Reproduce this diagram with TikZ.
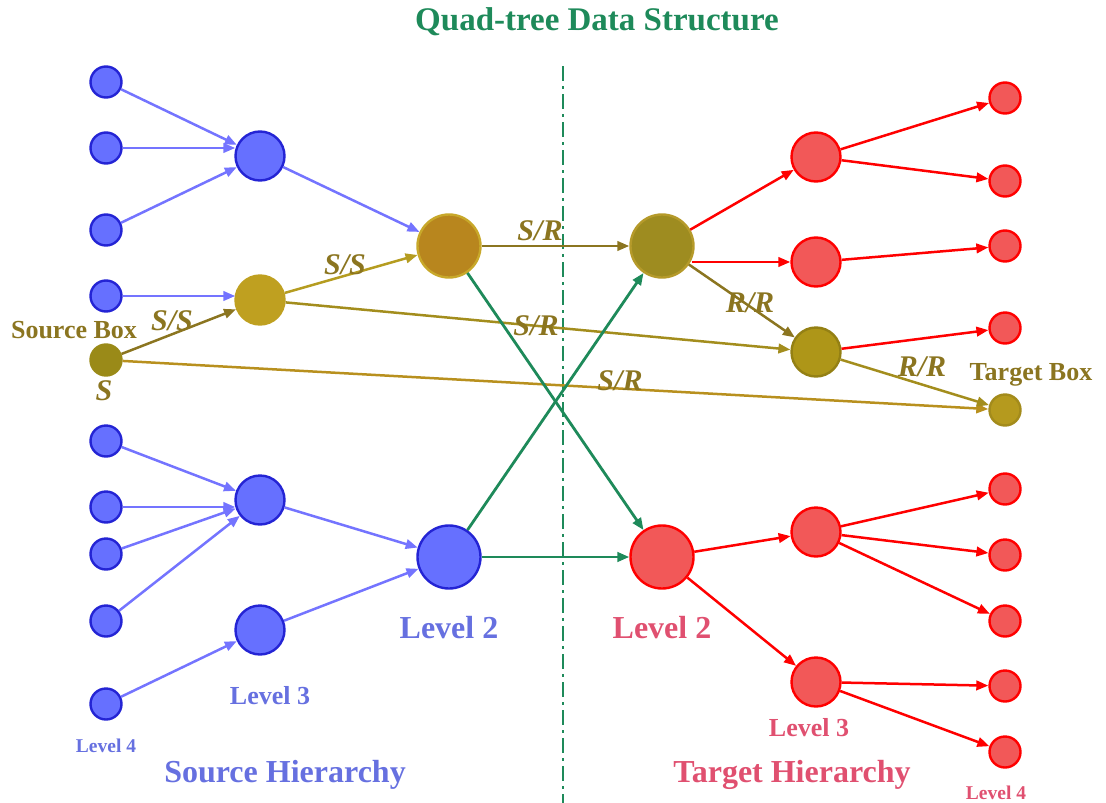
\documentclass[tikz,border=0pt]{standalone}
\usepackage{fontspec}
\setmainfont{Liberation Serif}
\usetikzlibrary{arrows.meta}
\definecolor{bfill}{HTML}{6670FF}
\definecolor{bdraw}{HTML}{2424D4}
\definecolor{bline}{HTML}{7474FF}
\definecolor{rfill}{HTML}{F25858}
\definecolor{rdraw}{HTML}{FF0000}
\definecolor{gline}{HTML}{1E8A5A}
\definecolor{olab}{HTML}{8B7520}
\definecolor{oline}{HTML}{8B7520}
\definecolor{oline2}{HTML}{B59C20}
\definecolor{oline3}{HTML}{B8901E}
\definecolor{srcfill}{HTML}{9A8A18}
\definecolor{tgtfill}{HTML}{B59A1E}
\definecolor{efill}{HTML}{B8861E}
\definecolor{edraw}{HTML}{C8A82A}
\definecolor{gfill}{HTML}{9E8C20}
\definecolor{gdraw}{HTML}{B59A2A}
\definecolor{bbfill}{HTML}{BFA020}
\definecolor{mfill}{HTML}{AE9618}
\definecolor{lvlb}{HTML}{6670E0}
\definecolor{lvlr}{HTML}{E05070}
\tikzset{
  nd/.style={circle,inner sep=0pt,line width=2.4pt},
  sm/.style={nd,minimum size=31pt},
  md/.style={nd,minimum size=49pt},
  lg/.style={nd,minimum size=63pt},
  blu/.style={fill=bfill,draw=bdraw},
  red/.style={fill=rfill,draw=rdraw},
  ar/.style={-{Triangle[length=12pt,width=9.5pt]},line width=2.5pt},
  bl/.style={ar,bline},
  rl/.style={ar,rdraw},
  gl/.style={ar,gline,line width=2.8pt},
  ol/.style={ar,oline},
  lab/.style={font=\fontsize{30}{32}\selectfont\bfseries\itshape,text=olab},
  big/.style={font=\fontsize{32}{34}\selectfont\bfseries},
  mid/.style={font=\fontsize{26}{28}\selectfont\bfseries},
  tiny/.style={font=\fontsize{19.5}{21}\selectfont\bfseries},
}
\begin{document}
\begin{tikzpicture}[x=1pt,y=-1pt]
\useasboundingbox (0,0) rectangle (1106,803);
% left level 4
\node[sm,blu] (l1) at (106,82) {};
\node[sm,blu] (l2) at (106,148) {};
\node[sm,blu] (l3) at (106,230) {};
\node[sm,blu] (l4) at (106,296) {};
\node[sm,fill=srcfill,draw=srcfill] (src) at (106,360) {};
\node[sm,blu] (l6) at (106,441) {};
\node[sm,blu] (l7) at (106,507) {};
\node[sm,blu] (l8) at (106,554) {};
\node[sm,blu] (l9) at (106,621) {};
\node[sm,blu] (l10) at (106,704) {};
% left level 3
\node[md,blu] (A) at (260,156) {};
\node[md,fill=bbfill,draw=bbfill] (B) at (260,300) {};
\node[md,blu] (C) at (260,500) {};
\node[md,blu] (D) at (260,630) {};
% level 2
\node[lg,fill=efill,draw=edraw] (E) at (449,246) {};
\node[lg,blu] (F) at (449,557) {};
\node[lg,fill=gfill,draw=gdraw] (G) at (662,246) {};
\node[lg,red] (H) at (662,557) {};
% right level 3
\node[md,red] (P) at (816,157) {};
\node[md,red] (Q) at (816,262) {};
\node[md,fill=mfill,draw=mfill!85!black] (M) at (816,352) {};
\node[md,red] (U) at (816,532) {};
\node[md,red] (V) at (816,682) {};
% right level 4
\node[sm,red] (r1) at (1005,98) {};
\node[sm,red] (r2) at (1005,181) {};
\node[sm,red] (r3) at (1005,246) {};
\node[sm,red] (r4) at (1005,328) {};
\node[sm,fill=tgtfill,draw=tgtfill!90!black] (tgt) at (1005,410) {};
\node[sm,red] (r6) at (1005,489) {};
\node[sm,red] (r7) at (1005,555) {};
\node[sm,red] (r8) at (1005,621) {};
\node[sm,red] (r9) at (1005,686) {};
\node[sm,red] (r10) at (1005,752) {};
% divider
\coordinate (dt) at (563,66);
\coordinate (db) at (563,803);
\draw[gline,line width=2.6pt,dash pattern=on 15pt off 5pt on 3pt off 5pt] (dt) -- (db);
% blue edges
\draw[bl] (l1) -- (A);
\draw[bl] (l2) -- ([xshift=1pt]A.west |- l2);
\draw[bl] (l3) -- (A);
\draw[bl] (l4) -- ([xshift=1pt]B.west |- l4);
\draw[bl] (A) -- (E);
\draw[bl] (l6) -- (C);
\draw[bl] (l7) -- ([xshift=1pt]C.west |- l7);
\draw[bl] (l8) -- (C);
\draw[bl] (l9) -- (C);
\draw[bl] (l10) -- (D);
\draw[bl] (C) -- (F);
\draw[bl] (D) -- (F);
% olive edges
\draw[ol] (src) -- (B);
\draw[ar,oline3] (src) -- (tgt);
\draw[ar,oline2] (B) -- (E);
\draw[ar,oline2!90!black] (B) -- (M);
\draw[ol] (E) -- (G);
\draw[ol] (G) -- (M);
\draw[ar,oline2!90!black] (M) -- (tgt);
% green edges
\draw[gl] (E) -- (H);
\draw[gl] (F) -- (G);
\draw[gl] (F) -- (H);
% red edges
\draw[rl] (G) -- (P);
\draw[rl] ([xshift=-3pt]G.east |- Q) -- (Q);
\draw[rl] (P) -- (r1);
\draw[rl] (P) -- (r2);
\draw[rl] (Q) -- (r3);
\draw[rl] (M) -- (r4);
\draw[rl] (H) -- (U);
\draw[rl] (H) -- (V);
\draw[rl] (U) -- (r6);
\draw[rl] (U) -- (r7);
\draw[rl] (U) -- (r8);
\draw[rl] (V) -- (r9);
\draw[rl] (V) -- (r10);
% labels
\node[font=\fontsize{33}{35}\selectfont\bfseries,text=gline] (title) at (597,22) {Quad-tree Data Structure};
\node[mid,text=olab] (srcl) at (74,330) {Source Box};
\node[lab] (sl) at (104,391) {S};
\node[lab] (ss1) at (172,321) {S/S};
\node[lab] (ss2) at (345,265) {S/S};
\node[lab] (sr1) at (540,231) {S/R};
\node[lab] (sr2) at (536,326) {S/R};
\node[lab] (sr3) at (620,381) {S/R};
\node[lab] (rr1) at (750,303) {R/R};
\node[lab] (rr2) at (922,367) {R/R};
\node[mid,text=olab] (tgtl) at (1031,375) {Target Box};
\node[big,text=lvlb] (lv2l) at (449,628) {Level 2};
\node[big,text=lvlr] (lv2r) at (662,628) {Level 2};
\node[mid,text=lvlb] (lv3l) at (270,696) {Level 3};
\node[mid,text=lvlr] (lv3r) at (809,728) {Level 3};
\node[tiny,text=lvlb] (lv4l) at (106,746) {Level 4};
\node[tiny,text=lvlr] (lv4r) at (996,793) {Level 4};
\node[big,text=lvlb] (sh) at (285,775) {Source Hierarchy};
\node[big,text=lvlr] (th) at (792,775) {Target Hierarchy};
\end{tikzpicture}
\end{document}
